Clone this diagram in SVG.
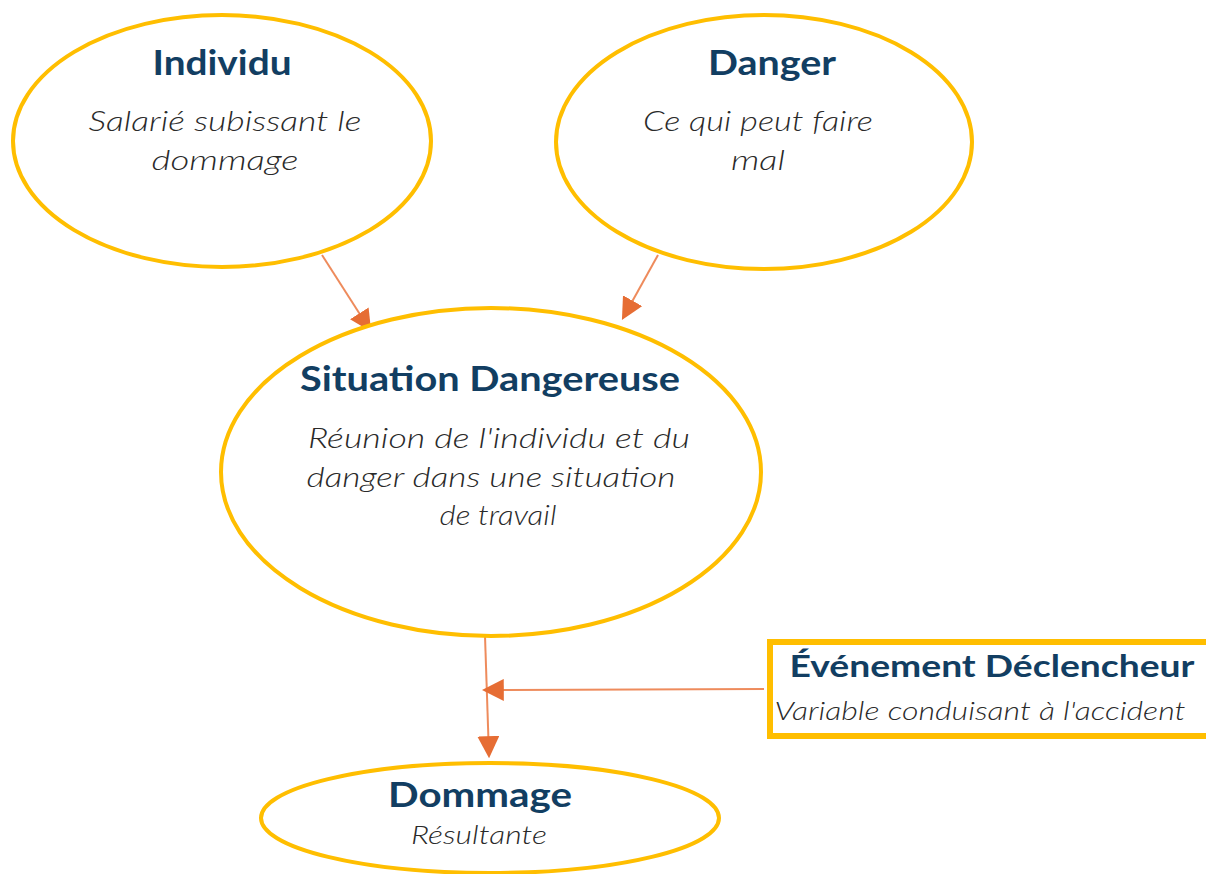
<svg xmlns="http://www.w3.org/2000/svg" width="1206" height="874" viewBox="0 0 1206 874">
<style>
.node{fill:#fff;stroke:#FFBE00;stroke-width:4}
.title{font-family:Lato,"Open Sans","Liberation Sans",sans-serif;font-weight:700;fill:#123E62;text-anchor:middle}
.sub{font-family:Lato,"Open Sans","Liberation Sans",sans-serif;font-weight:300;font-style:italic;fill:#2a2a2a;text-anchor:middle}
.edge{stroke:#EE8B5C;stroke-width:2;fill:none;marker-end:url(#ah)}
</style>
<defs>
<marker id="ah" viewBox="0 0 10 10" refX="9" refY="5" markerWidth="10" markerHeight="10" markerUnits="userSpaceOnUse" orient="auto">
<path d="M0,0 L10,5 L0,10 z" fill="#E66D34"/>
</marker>
<marker id="ah2" viewBox="0 0 10 10" refX="9" refY="5" markerWidth="22" markerHeight="22" markerUnits="userSpaceOnUse" orient="auto">
<path d="M0,0 L10,5 L0,10 z" fill="#E66D34"/>
</marker>
</defs>
<rect width="1206" height="874" fill="#fff"/>
<g id="connectors">
<line x1="322" y1="255" x2="370" y2="330" stroke="#EE8B5C" stroke-width="2" marker-end="url(#ah2)"/>
<line x1="658" y1="255" x2="623" y2="318" stroke="#EE8B5C" stroke-width="2" marker-end="url(#ah2)"/>
<line x1="485" y1="636" x2="489" y2="756" stroke="#EE8B5C" stroke-width="2" marker-end="url(#ah2)"/>
<line x1="764" y1="689" x2="484" y2="690" stroke="#EE8B5C" stroke-width="2" marker-end="url(#ah2)"/>
</g>
<g id="individu">
<ellipse class="node" cx="222" cy="141" rx="209" ry="126"/>
<text class="title" x="222" y="75" font-size="34" textLength="139" lengthAdjust="spacingAndGlyphs">Individu</text>
<text class="sub" x="225" y="131" font-size="28" textLength="273" lengthAdjust="spacingAndGlyphs">Salarié subissant le</text>
<text class="sub" x="225" y="170" font-size="28" textLength="147" lengthAdjust="spacingAndGlyphs">dommage</text>
</g>
<g id="danger">
<ellipse class="node" cx="764" cy="142" rx="208" ry="127"/>
<text class="title" x="772" y="75" font-size="34" textLength="128" lengthAdjust="spacingAndGlyphs">Danger</text>
<text class="sub" x="758" y="131" font-size="28" textLength="230" lengthAdjust="spacingAndGlyphs">Ce qui peut faire</text>
<text class="sub" x="758" y="170" font-size="28" textLength="54" lengthAdjust="spacingAndGlyphs">mal</text>
</g>
<g id="situation">
<ellipse class="node" cx="491" cy="472" rx="270" ry="164"/>
<text class="title" x="490" y="391" font-size="34" textLength="380" lengthAdjust="spacingAndGlyphs">Situation Dangereuse</text>
<text class="sub" x="499" y="448" font-size="28" textLength="382" lengthAdjust="spacingAndGlyphs">Réunion de l'individu et du</text>
<text class="sub" x="491" y="487" font-size="28" textLength="369" lengthAdjust="spacingAndGlyphs">danger dans une situation</text>
<text class="sub" x="498" y="525" font-size="28" textLength="117" lengthAdjust="spacingAndGlyphs">de travail</text>
</g>
<g id="evenement">
<rect x="770" y="642" width="440" height="94" fill="#fff" stroke="#FFBE00" stroke-width="6"/>
<text class="title" x="992" y="677" font-size="30" textLength="405" lengthAdjust="spacingAndGlyphs">Événement Déclencheur</text>
<text class="sub" x="980" y="720" font-size="25" textLength="411" lengthAdjust="spacingAndGlyphs">Variable conduisant à l'accident</text>
</g>
<g id="dommage">
<ellipse class="node" cx="490" cy="818" rx="229" ry="55"/>
<text class="title" x="480" y="807" font-size="34" textLength="184" lengthAdjust="spacingAndGlyphs">Dommage</text>
<text class="sub" x="479" y="844" font-size="25" textLength="136" lengthAdjust="spacingAndGlyphs">Résultante</text>
</g>
</svg>
